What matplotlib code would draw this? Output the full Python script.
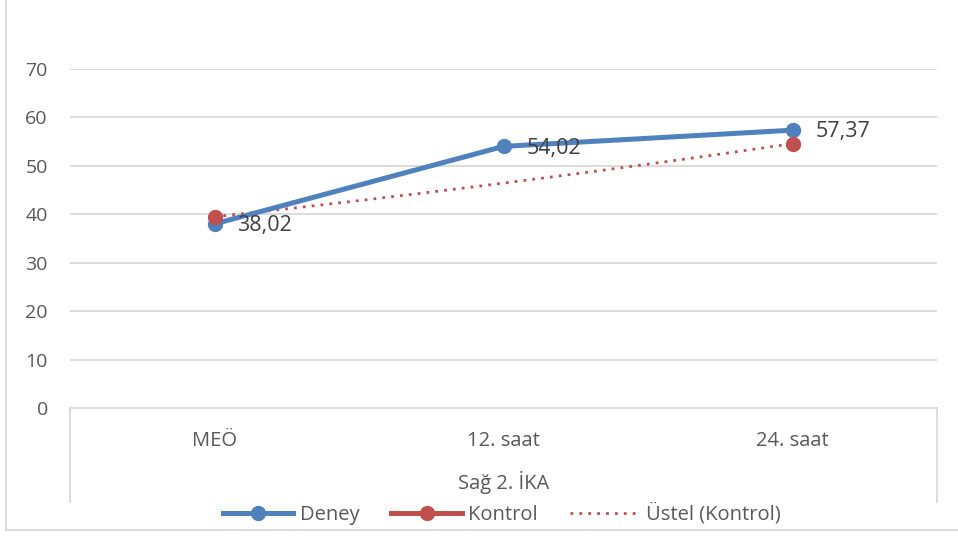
import numpy as np
import matplotlib.pyplot as plt
from matplotlib.lines import Line2D

plt.rcParams['font.family'] = ['Open Sans', 'DejaVu Sans']

# Data
categories = ['MEÖ', '12. saat', '24. saat']
deney = [38.02, 54.02, 57.37]
kontrol = [39.5, np.nan, 54.6]
group_label = 'Sağ 2. İKA'

blue = '#4F81BD'
red = '#C0504D'
grey = '#595959'
grid = '#D9D9D9'

W, H = 958, 536
fig = plt.figure(figsize=(W / 100, H / 100), dpi=100)
ax = fig.add_axes([70 / W, 1 - 408 / H, (937 - 70) / W, (408 - 69) / H])

x = np.arange(len(categories))

# Exponential trendline over the available control points
kx = np.array([i + 1 for i, v in enumerate(kontrol) if not np.isnan(v)])
ky = np.array([v for v in kontrol if not np.isnan(v)])
b, a = np.polyfit(kx, np.log(ky), 1)
tx = np.linspace(1, 3, 100)
ax.plot(tx - 1, np.exp(a + b * tx), color=red, lw=2, ls=(0, (1, 2.2)), zorder=2)

ax.plot(x, deney, color=blue, lw=3.6, marker='o', ms=10, zorder=3)
ax.plot(x, kontrol, color=red, lw=3.6, marker='o', ms=10, zorder=4)

# Value labels
for i in range(len(deney)):
    ax.annotate(f'{deney[i]:.2f}'.replace('.', ','), (x[i], deney[i]), xytext=(16.5, -1.3),
                textcoords='offset points', ha='left', va='center', fontsize=15.5, color='#404040')

ax.set_xlim(-0.5, 2.5)
ax.set_ylim(0, 70)
ax.set_yticks(range(0, 71, 10))
ax.set_xticks([])
ax.yaxis.grid(True, color=grid, lw=1.3)
ax.set_axisbelow(True)
for s in ax.spines.values():
    s.set_visible(False)
ax.spines['bottom'].set_visible(True)
ax.spines['bottom'].set_color(grid)
ax.spines['bottom'].set_linewidth(1.3)
ax.tick_params(axis='y', length=0, pad=16, labelsize=14, labelcolor=grey)

# Category labels and group label
for xi, c in zip(x, categories):
    ax.text(xi, -6.8, c, ha='center', va='center', fontsize=14.5, color=grey)
fig.text(504 / W, 1 - 482 / H, group_label, ha='center', va='center', fontsize=14.5, color=grey)

# Group bracket lines at the ends of the category axis
for px in (70, 937):
    fig.add_artist(Line2D([px / W, px / W], [1 - 408 / H, 1 - 502 / H], color=grid, lw=1.3))

# Outer chart border
fig.add_artist(Line2D([6 / W, 6 / W], [1, 1 - 530 / H], color=grid, lw=1.3))
fig.add_artist(Line2D([6 / W, 1], [1 - 530 / H, 1 - 530 / H], color=grid, lw=1.3))

# Legend
handles = [
    Line2D([], [], color=blue, lw=3.6, marker='o', ms=10),
    Line2D([], [], color=red, lw=3.6, marker='o', ms=10),
    Line2D([], [], color=red, lw=2, ls=(0, (1, 2.2))),
]
labels = ['Deney', 'Kontrol', 'Üstel (Kontrol)']
fig.legend(handles, labels, loc='center', bbox_to_anchor=(502 / W, 1 - 514 / H), ncol=3,
           frameon=False, fontsize=14.5, labelcolor=grey, handlelength=3.5,
           handletextpad=0.3, columnspacing=1.6)

fig.savefig('out.png', dpi=100)
